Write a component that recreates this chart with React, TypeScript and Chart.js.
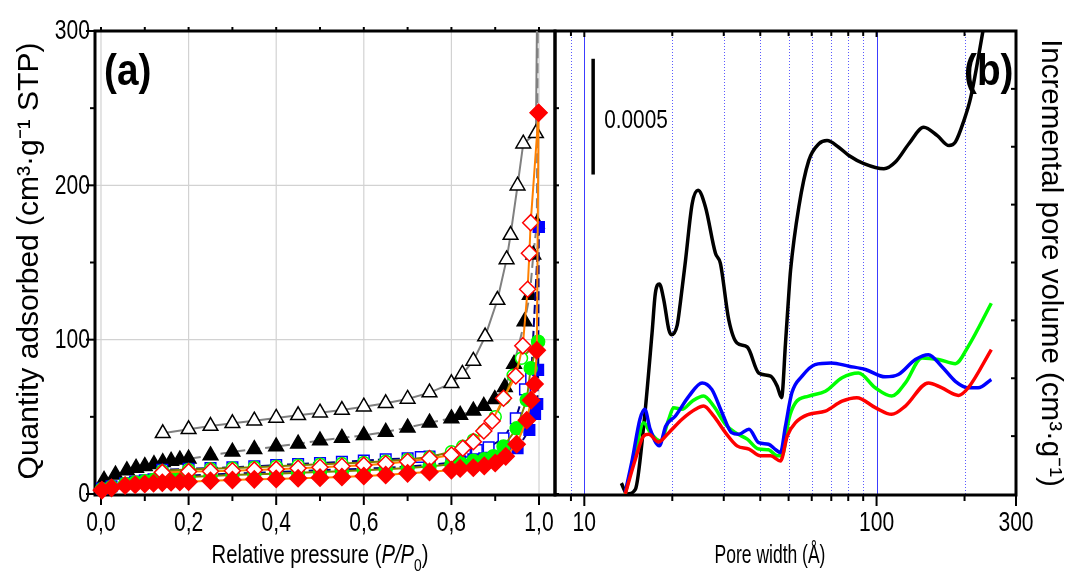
import React, { useEffect, useRef } from 'react';
import { Chart, registerables } from 'chart.js';
Chart.register(...registerables);

const W = 1067;
const H = 572;
const SANS = "'Liberation Sans', Arial, sans-serif";

// ---------- (a) isotherms ----------
const leftXTicks = [0, 0.2, 0.4, 0.6, 0.8, 1.0];
const leftYTicks = [0, 100, 200, 300];

// filled triangles (adsorption)
const ftX = [0.007, 0.033, 0.059, 0.08, 0.1, 0.121, 0.141, 0.16, 0.18, 0.2, 0.25, 0.3, 0.35, 0.4, 0.45, 0.5, 0.55, 0.6, 0.65, 0.7, 0.75, 0.8, 0.82, 0.85, 0.874, 0.899, 0.922, 0.943, 0.967, 0.979, 0.987, 0.995, 0.999];
const ftY = [9, 12.5, 15.3, 16.9, 18, 19.2, 20.5, 21.4, 22.2, 22.8, 25, 27.3, 29, 30.7, 32.6, 34.6, 36.3, 38, 40.2, 43, 46.2, 49, 51.2, 54, 57, 61.4, 69.2, 84.3, 111.7, 129, 155, 175, 420];
// open triangles (desorption)
const otX = [0.999, 0.993, 0.964, 0.951, 0.935, 0.926, 0.905, 0.877, 0.85, 0.825, 0.8, 0.75, 0.7, 0.65, 0.6, 0.55, 0.5, 0.45, 0.4, 0.35, 0.3, 0.25, 0.2, 0.141];
const otY = [420, 233.7, 227, 199.8, 167.8, 152, 125.7, 102, 86.2, 77.8, 71.7, 65.7, 61.6, 58.8, 56.6, 54.4, 52.7, 51, 49.3, 47.5, 45.8, 44, 41.9, 39.3];
// filled squares
const fsX = [0.002, 0.024, 0.055, 0.078, 0.1, 0.12, 0.14, 0.16, 0.18, 0.2, 0.25, 0.3, 0.35, 0.4, 0.45, 0.5, 0.55, 0.6, 0.65, 0.7, 0.75, 0.8, 0.82, 0.85, 0.875, 0.9, 0.922, 0.951, 0.978, 0.991, 0.996, 0.998, 0.9995];
const fsY = [3.5, 5, 7, 8, 8.8, 9.5, 10.2, 10.8, 11.3, 11.9, 12.6, 13.2, 13.7, 14.2, 14.8, 15.4, 15.9, 16.4, 17, 17.8, 18.8, 20.3, 21.2, 22.5, 23.1, 24.2, 27.4, 29.6, 41.5, 51.8, 58.3, 80.4, 173];
// open squares
const osX = [0.9995, 0.982, 0.968, 0.947, 0.919, 0.885, 0.858, 0.831, 0.812, 0.75, 0.73, 0.7, 0.65, 0.6, 0.55, 0.5, 0.45, 0.4, 0.35, 0.3, 0.25, 0.2, 0.14];
const osY = [173, 75, 67.8, 49, 36.1, 30.3, 28.5, 27.4, 26.8, 24.2, 24, 23.1, 22.5, 21.6, 20.8, 20.1, 19.4, 18.7, 18, 17.3, 16.8, 16.3, 15.6];
// filled circles
const fcX = [0.002, 0.024, 0.055, 0.078, 0.1, 0.12, 0.14, 0.16, 0.18, 0.2, 0.25, 0.3, 0.35, 0.4, 0.45, 0.5, 0.55, 0.6, 0.65, 0.7, 0.75, 0.8, 0.82, 0.85, 0.875, 0.896, 0.919, 0.949, 0.972, 0.981, 0.998];
const fcY = [3, 4.5, 6.5, 7.5, 8.3, 9, 9.6, 10.1, 10.6, 11, 11.7, 12.3, 12.8, 13.2, 13.7, 14.3, 14.8, 15.4, 16, 16.8, 17.8, 19.3, 20.2, 21.5, 22.5, 24.5, 30.7, 42.6, 61, 81.5, 98.7];
// open circles
const ocX = [0.998, 0.96, 0.941, 0.92, 0.9, 0.874, 0.85, 0.826, 0.8, 0.75, 0.7, 0.65, 0.6, 0.55, 0.5, 0.45, 0.4, 0.35, 0.3, 0.25, 0.2, 0.14];
const ocY = [98.7, 88, 77, 62, 50, 41, 35, 31, 27.4, 24, 22.3, 21.2, 20.4, 19.8, 19.2, 18.6, 18, 17.4, 16.8, 16.3, 15.8, 15.1];
// filled diamonds
const fdX = [0.002, 0.024, 0.055, 0.078, 0.1, 0.12, 0.14, 0.16, 0.18, 0.2, 0.25, 0.3, 0.35, 0.4, 0.45, 0.5, 0.55, 0.6, 0.65, 0.7, 0.75, 0.8, 0.82, 0.85, 0.875, 0.9, 0.924, 0.949, 0.972, 0.982, 0.99, 0.995, 0.999];
const fdY = [2.5, 4, 5.5, 6, 6.5, 7, 7.3, 7.6, 7.8, 8, 8.6, 9.1, 9.5, 9.8, 10.2, 10.6, 11, 11.7, 12.3, 13.4, 14.3, 15.5, 16.6, 17, 18.2, 20.1, 24.4, 32.3, 47.8, 60.8, 71.2, 93.1, 247];
// open diamonds
const odX = [0.999, 0.981, 0.978, 0.974, 0.963, 0.947, 0.919, 0.893, 0.874, 0.85, 0.826, 0.8, 0.75, 0.7, 0.65, 0.6, 0.55, 0.5, 0.45, 0.4, 0.35, 0.3, 0.25, 0.2, 0.14];
const odY = [247, 175.8, 156, 132.7, 96, 76.5, 62, 47.3, 40.8, 33.9, 29.6, 25.3, 23, 21, 19.6, 18.7, 18, 17.3, 16.7, 16.1, 15.6, 15.1, 14.8, 14.5, 14];

// ---------- (b) pore size distribution ----------
const rightXTicks = [10, 100, 300];
const rightMinorX = [9, 20, 30, 40, 50, 60, 70, 80, 90, 200];
const rightMajorX = [10, 100];

const blackX = [13.39, 14.0, 14.95, 15.96, 17.05, 17.5, 18.06, 18.7, 19.46, 19.86, 20.8, 21.3, 22.2, 23.4, 24.5, 25.97, 28.1, 29.2, 31.2, 33.3, 36.1, 39.5, 43.4, 45.7, 47.3, 48.8, 50.1, 50.8, 54.2, 58.6, 63.5, 67.7, 74.2, 80.4, 90.5, 106, 116, 129, 145, 161.4, 177, 186, 199, 210, 235];
const blackY = [0.000047, 0.0, 0.00002, 0.000294, 0.000695, 0.000867, 0.000907, 0.000839, 0.00071, 0.000688, 0.000731, 0.000824, 0.00101, 0.001255, 0.001312, 0.00124, 0.00104, 0.000997, 0.000753, 0.000652, 0.000635, 0.000523, 0.000509, 0.000466, 0.000416, 0.000652, 0.000867, 0.000968, 0.00124, 0.00144, 0.001513, 0.001527, 0.001498, 0.001462, 0.001427, 0.001405, 0.001434, 0.001513, 0.001584, 0.001548, 0.001505, 0.00152, 0.001613, 0.001713, 0.00205];
const greenX = [13.8, 14.95, 15.96, 16.83, 18.2, 19.46, 20.2, 21.6, 23.4, 25.6, 27.7, 30.4, 32.9, 36.1, 39.5, 42.7, 45.7, 47.5, 50.1, 52.8, 58.6, 66.8, 76.2, 86.7, 99, 112.7, 125.5, 143, 163, 186, 206, 247];
const greenY = [0, 0.000179, 0.000308, 0.000265, 0.000229, 0.000323, 0.000373, 0.000366, 0.000401, 0.000423, 0.00038, 0.000301, 0.000265, 0.000237, 0.000194, 0.000191, 0.000165, 0.000165, 0.000323, 0.000394, 0.000423, 0.000444, 0.000502, 0.000523, 0.000459, 0.000423, 0.00048, 0.000588, 0.000581, 0.000563, 0.000638, 0.000824];
const blueX = [13.8, 14.6, 15.5, 16.1, 16.8, 18.06, 19.0, 20.5, 22.8, 25.3, 27.3, 29.6, 31.9, 33.8, 36.6, 39.5, 42.7, 44.9, 46.9, 48.8, 51.3, 55.6, 61.6, 70, 80.4, 91.6, 107, 118.7, 135.8, 150.5, 166.8, 186, 206, 222.6, 247];
const blueY = [0.000007, 0.00015, 0.000323, 0.000366, 0.00028, 0.000208, 0.000294, 0.000337, 0.000423, 0.00048, 0.000452, 0.000351, 0.000265, 0.000258, 0.00028, 0.000222, 0.000215, 0.000194, 0.000179, 0.000294, 0.000437, 0.000509, 0.000559, 0.000566, 0.000552, 0.000538, 0.000506, 0.000516, 0.000581, 0.000602, 0.000552, 0.000487, 0.000459, 0.000459, 0.000495];
const redX = [13.8, 14.95, 15.96, 16.6, 17.95, 19.46, 21.6, 24, 25.6, 27.7, 30.4, 33.3, 36.6, 40, 43.4, 46.9, 49.5, 52.8, 58.6, 66.8, 76.2, 85.6, 99, 112.7, 125.5, 150.5, 166.8, 190.8, 206, 247];
const redY = [0, 0.00015, 0.000251, 0.000258, 0.000225, 0.000265, 0.000323, 0.000366, 0.00038, 0.000337, 0.000265, 0.000208, 0.000194, 0.000165, 0.000165, 0.000143, 0.000251, 0.000308, 0.000344, 0.000358, 0.000401, 0.000416, 0.000373, 0.000344, 0.00038, 0.00048, 0.000459, 0.000426, 0.000459, 0.000624];

const scaleBarValue = 0.0005;
const scaleBarLabel = '0.0005';

const pts = (xs: number[], ys: number[]) => xs.map((x, i) => ({ x, y: ys[i] }));

function seg(ctx: CanvasRenderingContext2D, x1: number, y1: number, x2: number, y2: number) {
  ctx.beginPath();
  ctx.moveTo(x1, y1);
  ctx.lineTo(x2, y2);
  ctx.stroke();
}

// text drawn with horizontal compression (condensed look of the original)
function sText(ctx: CanvasRenderingContext2D, text: string, x: number, y: number, font: string, align: CanvasTextAlign, sx: number) {
  ctx.save();
  ctx.fillStyle = '#000';
  ctx.font = font;
  ctx.textAlign = align;
  ctx.textBaseline = 'middle';
  ctx.translate(x, y);
  ctx.scale(sx, 1);
  ctx.fillText(text, 0, 0);
  ctx.restore();
}

const TICK_FONT = `27px ${SANS}`;
const TICK_SX = 0.78;

const leftDecor = {
  id: 'leftDecor',
  beforeDatasetsDraw(chart: any) {
    const { ctx, chartArea: a } = chart;
    const xs = chart.scales.x;
    const ys = chart.scales.y;
    ctx.save();
    ctx.strokeStyle = '#d2d2d2';
    ctx.lineWidth = 1.2;
    for (const v of leftXTicks) {
      const px = xs.getPixelForValue(v);
      seg(ctx, px, a.top, px, a.bottom);
    }
    for (const v of [100, 200]) {
      const py = ys.getPixelForValue(v);
      seg(ctx, a.left, py, a.right, py);
    }
    ctx.strokeStyle = '#000';
    ctx.lineWidth = 3;
    ctx.strokeRect(a.left - 1, a.top, a.right - a.left + 1, a.bottom - a.top + 1);
    ctx.lineWidth = 2;
    for (let i = 0; i <= 10; i++) {
      const px = xs.getPixelForValue(i / 10);
      seg(ctx, px, a.bottom + 1, px, a.bottom + 1 + (i % 2 === 0 ? 10 : 6));
      seg(ctx, px, a.top, px, a.top - 4);
    }
    for (let v = 0; v <= 300; v += 50) {
      const py = ys.getPixelForValue(v);
      seg(ctx, a.left - 1, py, a.left - 1 - (v % 100 === 0 ? 9 : 5), py);
      seg(ctx, a.right, py, a.right + 4, py);
    }
    ctx.restore();
  },
  afterDraw(chart: any) {
    const { ctx } = chart;
    const xs = chart.scales.x;
    const ys = chart.scales.y;
    // tick labels
    for (const v of leftXTicks) {
      sText(ctx, v.toFixed(1).replace('.', ','), xs.getPixelForValue(v), 524, TICK_FONT, 'center', TICK_SX);
    }
    for (const v of leftYTicks) {
      sText(ctx, String(v), 90, ys.getPixelForValue(v) + 1, TICK_FONT, 'right', TICK_SX);
    }
    // panel label
    sText(ctx, '(a)', 104, 73, `bold 44px ${SANS}`, 'left', 0.88);

    // y title
    ctx.save();
    ctx.fillStyle = '#000';
    ctx.translate(30, 261);
    ctx.rotate(-Math.PI / 2);
    ctx.font = `30px ${SANS}`;
    ctx.textAlign = 'center';
    ctx.textBaseline = 'middle';
    ctx.fillText('Quantity adsorbed (cm³·g⁻¹ STP)', 0, 0);
    ctx.restore();

    // x title with italic P/P and subscript 0
    const runs = [
      { t: 'Relative pressure (', f: `25px ${SANS}`, dy: 0 },
      { t: 'P/P', f: `italic 25px ${SANS}`, dy: 0 },
      { t: '0', f: `17px ${SANS}`, dy: 10 },
      { t: ')', f: `25px ${SANS}`, dy: 0 },
    ];
    ctx.save();
    ctx.fillStyle = '#000';
    let total = 0;
    for (const r of runs) { ctx.font = r.f; total += ctx.measureText(r.t).width; }
    ctx.translate(320, 556);
    ctx.scale(0.81, 1);
    let x = -total / 2;
    ctx.textAlign = 'left';
    ctx.textBaseline = 'middle';
    for (const r of runs) {
      ctx.font = r.f;
      ctx.fillText(r.t, x, r.dy);
      x += ctx.measureText(r.t).width;
    }
    ctx.restore();
  },
};

const rightDecor = {
  id: 'rightDecor',
  beforeDatasetsDraw(chart: any) {
    const { ctx, chartArea: a } = chart;
    const xs = chart.scales.x;
    const ys = chart.scales.y;
    ctx.save();
    ctx.strokeStyle = '#5a5aff';
    ctx.lineWidth = 1;
    ctx.setLineDash([1, 2]);
    for (const v of rightMinorX) {
      const px = Math.round(xs.getPixelForValue(v)) + 0.5;
      seg(ctx, px, a.top, px, a.bottom);
    }
    ctx.setLineDash([]);
    ctx.strokeStyle = '#3c3cff';
    for (const v of rightMajorX) {
      const px = Math.round(xs.getPixelForValue(v)) + 0.5;
      seg(ctx, px, a.top, px, a.bottom);
    }
    ctx.strokeStyle = '#000';
    ctx.lineWidth = 3;
    ctx.strokeRect(a.left - 1, a.top, a.right - a.left + 1, a.bottom - a.top + 1);
    ctx.lineWidth = 2;
    for (const v of rightMinorX) {
      const px = xs.getPixelForValue(v);
      seg(ctx, px, a.bottom + 1, px, a.bottom + 7);
      seg(ctx, px, a.top, px, a.top + 5);
    }
    for (const v of rightXTicks) {
      const px = xs.getPixelForValue(v);
      seg(ctx, px, a.bottom + 1, px, a.bottom + 12);
      seg(ctx, px, a.top, px, a.top + 6);
    }
    for (let k = 1; k < 8; k++) {
      const py = ys.getPixelForValue(k * 0.00025);
      seg(ctx, a.right, py, a.right - 5, py);
    }
    ctx.restore();
  },
  afterDraw(chart: any) {
    const { ctx } = chart;
    const xs = chart.scales.x;
    const ys = chart.scales.y;
    for (const v of rightXTicks) {
      sText(ctx, String(v), xs.getPixelForValue(v), 524, TICK_FONT, 'center', TICK_SX);
    }
    ctx.save();
    // scale bar
    const bx = xs.getPixelForValue(10.72);
    const top = ys.getPixelForValue(0.00188);
    const bot = ys.getPixelForValue(0.00188 - scaleBarValue);
    ctx.strokeStyle = '#000';
    ctx.lineWidth = 3.5;
    seg(ctx, bx, top, bx, bot);
    ctx.restore();
    sText(ctx, scaleBarLabel, bx + 11, (top + bot) / 2 + 4, `26px ${SANS}`, 'left', 0.8);
    sText(ctx, '(b)', 964, 73, `bold 44px ${SANS}`, 'left', 0.88);
    sText(ctx, 'Pore width (Å)', 770, 556, `25px ${SANS}`, 'center', 0.7);

    ctx.save();
    ctx.fillStyle = '#000';
    ctx.translate(1050, 263);
    ctx.rotate(Math.PI / 2);
    ctx.font = `29.5px ${SANS}`;
    ctx.textAlign = 'center';
    ctx.textBaseline = 'middle';
    ctx.fillText('Incremental pore volume (cm³·g⁻¹)', 0, 0);
    ctx.restore();
  },
};

function leftConfig(): any {
  const ds = (data: any, o: any) => ({
    data,
    showLine: true,
    borderWidth: 2,
    pointBorderWidth: 1.5,
    clip: { left: 10, top: 0, right: 0, bottom: 10 },
    ...o,
  });
  return {
    type: 'scatter',
    data: {
      datasets: [
        ds(pts(fdX, fdY), { borderColor: '#ff8000', pointStyle: 'rectRot', pointRadius: 8.5, pointBackgroundColor: '#ff0000', pointBorderColor: '#ff0000' }),
        ds(pts(odX, odY), { borderColor: '#ff8000', pointStyle: 'rectRot', pointRadius: 8, pointBackgroundColor: '#ffffff', pointBorderColor: '#ff0000' }),
        ds(pts(fcX, fcY), { borderColor: '#808000', pointStyle: 'circle', pointRadius: 6.5, pointBackgroundColor: '#00ff00', pointBorderColor: '#00ff00' }),
        ds(pts(ocX, ocY), { borderColor: '#808000', pointStyle: 'circle', pointRadius: 6, pointBackgroundColor: '#ffffff', pointBorderColor: '#00ff00' }),
        ds(pts(fsX, fsY), { borderColor: '#000080', borderDash: [9, 4], pointStyle: 'rect', pointRadius: 7.5, pointBackgroundColor: '#0000ff', pointBorderColor: '#0000ff' }),
        ds(pts(osX, osY), { borderColor: '#000080', borderDash: [9, 4], pointStyle: 'rect', pointRadius: 7.5, pointBackgroundColor: '#ffffff', pointBorderColor: '#0000ff' }),
        ds(pts(ftX, ftY), { borderColor: '#808080', borderDash: [10, 5], pointStyle: 'triangle', pointRadius: 8.5, pointBackgroundColor: '#000000', pointBorderColor: '#000000' }),
        ds(pts(otX, otY), { borderColor: '#808080', pointStyle: 'triangle', pointRadius: 8.5, pointBackgroundColor: '#ffffff', pointBorderColor: '#000000' }),
      ],
    },
    options: {
      responsive: false,
      animation: false,
      events: [],
      layout: { autoPadding: false, padding: { left: 0, top: 31, right: W - 555, bottom: 0 } },
      plugins: { legend: { display: false }, tooltip: { enabled: false } },
      scales: {
        x: {
          type: 'linear',
          min: -0.0114,
          max: 1.0365,
          grid: { display: false, drawTicks: false },
          border: { display: false },
          afterBuildTicks: (s: any) => { s.ticks = leftXTicks.map((value) => ({ value })); },
          afterFit: (s: any) => { s.height = H - 494; },
          ticks: { display: false },
        },
        y: {
          type: 'linear',
          min: 0,
          max: 300,
          grid: { display: false, drawTicks: false },
          border: { display: false },
          afterBuildTicks: (s: any) => { s.ticks = leftYTicks.map((value) => ({ value })); },
          afterFit: (s: any) => { s.width = 96; },
          ticks: { display: false },
        },
      },
    },
    plugins: [leftDecor],
  };
}

function rightConfig(): any {
  const ds = (data: any, color: string) => ({
    data,
    showLine: true,
    borderColor: color,
    borderWidth: 3.5,
    pointRadius: 0,
    cubicInterpolationMode: 'monotone',
  });
  return {
    type: 'scatter',
    data: {
      datasets: [
        ds(pts(redX, redY), '#ff0000'),
        ds(pts(blueX, blueY), '#0000ff'),
        ds(pts(greenX, greenY), '#00ff00'),
        ds(pts(blackX, blackY), '#000000'),
      ],
    },
    options: {
      responsive: false,
      animation: false,
      events: [],
      layout: { autoPadding: false, padding: { left: 556, top: 31, right: 0, bottom: 0 } },
      plugins: { legend: { display: false }, tooltip: { enabled: false } },
      scales: {
        x: {
          type: 'logarithmic',
          min: 8,
          max: 300,
          grid: { display: false, drawTicks: false },
          border: { display: false },
          afterBuildTicks: (s: any) => { s.ticks = rightXTicks.map((value) => ({ value })); },
          afterFit: (s: any) => { s.height = H - 494; },
          ticks: { display: false },
        },
        y: {
          type: 'linear',
          position: 'right',
          min: 0,
          max: 0.002,
          grid: { display: false, drawTicks: false },
          border: { display: false },
          afterFit: (s: any) => { s.width = W - 1016; },
          ticks: { display: false },
        },
      },
    },
    plugins: [rightDecor],
  };
}

export default function App() {
  const leftRef = useRef<HTMLCanvasElement>(null);
  const rightRef = useRef<HTMLCanvasElement>(null);
  useEffect(() => {
    const c1 = new Chart(leftRef.current as HTMLCanvasElement, leftConfig());
    const c2 = new Chart(rightRef.current as HTMLCanvasElement, rightConfig());
    return () => {
      c1.destroy();
      c2.destroy();
    };
  }, []);
  return (
    <div style={{ position: 'absolute', left: 0, top: 0, width: W, height: H, background: '#fff' }}>
      <canvas ref={leftRef} width={W} height={H} style={{ position: 'absolute', left: 0, top: 0 }} />
      <canvas ref={rightRef} width={W} height={H} style={{ position: 'absolute', left: 0, top: 0 }} />
    </div>
  );
}
